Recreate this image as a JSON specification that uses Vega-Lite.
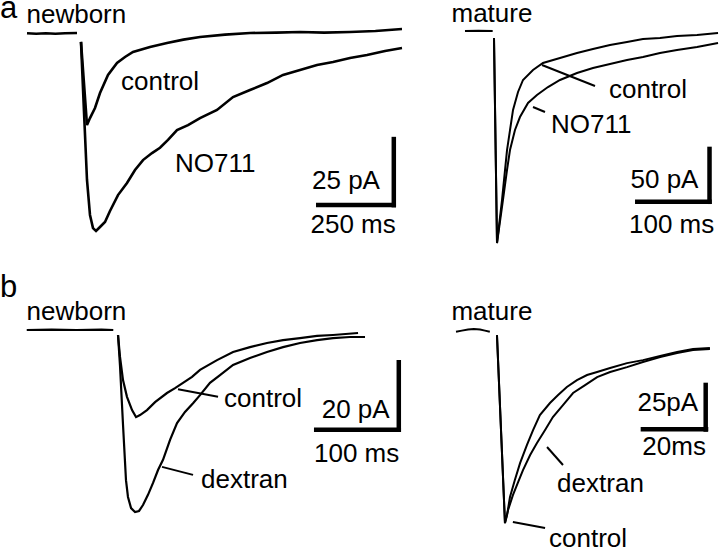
{
  "$schema": "https://vega.github.io/schema/vega-lite/v6.json",
  "padding": 0,
  "spacing": 0,
  "background": "white",
  "config": {
    "view": {"stroke": null},
    "concat": {"spacing": 0},
    "text": {"font": "Liberation Sans", "color": "black"}
  },
  "datasets": {
    "traces": [
      {"p":"A1","s":"base","t":-168.75,"i":0.1},{"p":"A1","s":"base","t":-140,"i":-0.1},{"p":"A1","s":"base","t":-110,"i":0.1},{"p":"A1","s":"base","t":-80,"i":-0.1},{"p":"A1","s":"base","t":-50,"i":0.1},{"p":"A1","s":"base","t":-12.5,"i":0.2},
      {"p":"A1","s":"control","t":0,"i":-3.0},{"p":"A1","s":"control","t":18.75,"i":-32.7},{"p":"A1","s":"control","t":28.1,"i":-30.2},{"p":"A1","s":"control","t":43.75,"i":-26.6},{"p":"A1","s":"control","t":59.4,"i":-21.25},{"p":"A1","s":"control","t":84.4,"i":-14.8},{"p":"A1","s":"control","t":112.5,"i":-10.5},{"p":"A1","s":"control","t":137.5,"i":-8.4},{"p":"A1","s":"control","t":162.5,"i":-6.6},{"p":"A1","s":"control","t":215.6,"i":-4.8},{"p":"A1","s":"control","t":268.75,"i":-3.4},{"p":"A1","s":"control","t":320,"i":-2.2},{"p":"A1","s":"control","t":371.9,"i":-1.25},{"p":"A1","s":"control","t":450,"i":-0.4},{"p":"A1","s":"control","t":528.1,"i":0.18},{"p":"A1","s":"control","t":610,"i":0.3},{"p":"A1","s":"control","t":684.4,"i":0.54},{"p":"A1","s":"control","t":760,"i":0.3},{"p":"A1","s":"control","t":840.6,"i":0.54},{"p":"A1","s":"control","t":920,"i":0.9},{"p":"A1","s":"control","t":1003.1,"i":1.6},
      {"p":"A1","s":"NO711","t":0,"i":-3.0},{"p":"A1","s":"NO711","t":9.4,"i":-28},{"p":"A1","s":"NO711","t":18.75,"i":-52.3},{"p":"A1","s":"NO711","t":28.1,"i":-64.8},{"p":"A1","s":"NO711","t":37.5,"i":-69.5},{"p":"A1","s":"NO711","t":46.9,"i":-70.5},{"p":"A1","s":"NO711","t":59.4,"i":-69.1},{"p":"A1","s":"NO711","t":75,"i":-67.3},{"p":"A1","s":"NO711","t":90.6,"i":-63.4},{"p":"A1","s":"NO711","t":115.6,"i":-57.7},{"p":"A1","s":"NO711","t":143.75,"i":-53.4},{"p":"A1","s":"NO711","t":168.75,"i":-48.75},{"p":"A1","s":"NO711","t":193.75,"i":-45.2},{"p":"A1","s":"NO711","t":221.9,"i":-42.7},{"p":"A1","s":"NO711","t":246.9,"i":-40.8},{"p":"A1","s":"NO711","t":271.9,"i":-38.0},{"p":"A1","s":"NO711","t":300,"i":-34.5},{"p":"A1","s":"NO711","t":334.4,"i":-32.7},{"p":"A1","s":"NO711","t":371.9,"i":-30.2},{"p":"A1","s":"NO711","t":425,"i":-27.3},{"p":"A1","s":"NO711","t":475,"i":-22.7},{"p":"A1","s":"NO711","t":528.1,"i":-20.2},{"p":"A1","s":"NO711","t":581.25,"i":-17.7},{"p":"A1","s":"NO711","t":631.25,"i":-14.8},{"p":"A1","s":"NO711","t":684.4,"i":-13.0},{"p":"A1","s":"NO711","t":737.5,"i":-11.25},{"p":"A1","s":"NO711","t":787.5,"i":-10.2},{"p":"A1","s":"NO711","t":840.6,"i":-8.75},{"p":"A1","s":"NO711","t":893.75,"i":-7.7},{"p":"A1","s":"NO711","t":950,"i":-6.25},{"p":"A1","s":"NO711","t":1003.1,"i":-5.2},
      {"p":"A2","s":"base","t":-37.2,"i":0},{"p":"A2","s":"base","t":-20,"i":0.2},{"p":"A2","s":"base","t":-1.7,"i":0},
      {"p":"A2","s":"control","t":0,"i":-5.8},{"p":"A2","s":"control","t":3.85,"i":-176.7},{"p":"A2","s":"control","t":10.3,"i":-140.8},{"p":"A2","s":"control","t":16.7,"i":-99.2},{"p":"A2","s":"control","t":24.4,"i":-65.8},{"p":"A2","s":"control","t":30.8,"i":-50.8},{"p":"A2","s":"control","t":37.2,"i":-40.8},{"p":"A2","s":"control","t":50,"i":-32.5},{"p":"A2","s":"control","t":62.8,"i":-26.7},{"p":"A2","s":"control","t":84.6,"i":-22.5},{"p":"A2","s":"control","t":106.4,"i":-18.3},{"p":"A2","s":"control","t":126.9,"i":-15},{"p":"A2","s":"control","t":148.7,"i":-11.7},{"p":"A2","s":"control","t":170.5,"i":-9.2},{"p":"A2","s":"control","t":191,"i":-6.7},{"p":"A2","s":"control","t":212.8,"i":-5.8},{"p":"A2","s":"control","t":234.6,"i":-4.2},{"p":"A2","s":"control","t":260.3,"i":-3.3},{"p":"A2","s":"control","t":287.2,"i":-1.7},
      {"p":"A2","s":"NO711","t":0,"i":-5.8},{"p":"A2","s":"NO711","t":3.85,"i":-176.7},{"p":"A2","s":"NO711","t":11.5,"i":-140.8},{"p":"A2","s":"NO711","t":16.7,"i":-115.8},{"p":"A2","s":"NO711","t":20.5,"i":-99.2},{"p":"A2","s":"NO711","t":26.9,"i":-82.5},{"p":"A2","s":"NO711","t":33.3,"i":-71.7},{"p":"A2","s":"NO711","t":43.6,"i":-60},{"p":"A2","s":"NO711","t":55.1,"i":-53.3},{"p":"A2","s":"NO711","t":69.2,"i":-46.7},{"p":"A2","s":"NO711","t":84.6,"i":-40.8},{"p":"A2","s":"NO711","t":106.4,"i":-35},{"p":"A2","s":"NO711","t":126.9,"i":-30.8},{"p":"A2","s":"NO711","t":148.7,"i":-27.5},{"p":"A2","s":"NO711","t":170.5,"i":-24.2},{"p":"A2","s":"NO711","t":191,"i":-21.7},{"p":"A2","s":"NO711","t":212.8,"i":-18.3},{"p":"A2","s":"NO711","t":234.6,"i":-15.8},{"p":"A2","s":"NO711","t":260.3,"i":-13.3},{"p":"A2","s":"NO711","t":287.2,"i":-10},
      {"p":"B1","s":"base","t":-110,"i":0},{"p":"B1","s":"base","t":-80,"i":0.1},{"p":"B1","s":"base","t":-50,"i":0},{"p":"B1","s":"base","t":-20,"i":0.1},{"p":"B1","s":"base","t":-5.7,"i":0},
      {"p":"B1","s":"control","t":0,"i":-1.43},{"p":"B1","s":"control","t":2.4,"i":-7.7},{"p":"B1","s":"control","t":6,"i":-14.3},{"p":"B1","s":"control","t":10.8,"i":-19.1},{"p":"B1","s":"control","t":16.9,"i":-22.9},{"p":"B1","s":"control","t":21.7,"i":-24.9},{"p":"B1","s":"control","t":26.5,"i":-24.3},{"p":"B1","s":"control","t":34.9,"i":-22.9},{"p":"B1","s":"control","t":44.6,"i":-20.6},{"p":"B1","s":"control","t":59,"i":-18},{"p":"B1","s":"control","t":68.7,"i":-16.6},{"p":"B1","s":"control","t":78.3,"i":-15.1},{"p":"B1","s":"control","t":89.2,"i":-13.4},{"p":"B1","s":"control","t":98.8,"i":-11.4},{"p":"B1","s":"control","t":119.3,"i":-8.6},{"p":"B1","s":"control","t":138.6,"i":-6.3},{"p":"B1","s":"control","t":159,"i":-4.9},{"p":"B1","s":"control","t":179.5,"i":-3.7},{"p":"B1","s":"control","t":198.8,"i":-2.9},{"p":"B1","s":"control","t":219.3,"i":-2.3},{"p":"B1","s":"control","t":239.8,"i":-1.7},{"p":"B1","s":"control","t":259,"i":-1.43},{"p":"B1","s":"control","t":289.2,"i":-0.86},
      {"p":"B1","s":"dextran","t":0,"i":-1.43},{"p":"B1","s":"dextran","t":2.4,"i":-10.3},{"p":"B1","s":"dextran","t":6,"i":-27},{"p":"B1","s":"dextran","t":9.6,"i":-42.9},{"p":"B1","s":"dextran","t":12,"i":-47.7},{"p":"B1","s":"dextran","t":15.7,"i":-50.9},{"p":"B1","s":"dextran","t":20.5,"i":-52},{"p":"B1","s":"dextran","t":25.3,"i":-51.7},{"p":"B1","s":"dextran","t":30.1,"i":-50},{"p":"B1","s":"dextran","t":36.1,"i":-47.1},{"p":"B1","s":"dextran","t":42.2,"i":-43.7},{"p":"B1","s":"dextran","t":48.2,"i":-40},{"p":"B1","s":"dextran","t":54.2,"i":-37.1},{"p":"B1","s":"dextran","t":62.7,"i":-31.4},{"p":"B1","s":"dextran","t":71.1,"i":-26.6},{"p":"B1","s":"dextran","t":80.7,"i":-23.4},{"p":"B1","s":"dextran","t":90.4,"i":-20.9},{"p":"B1","s":"dextran","t":98.8,"i":-18.6},{"p":"B1","s":"dextran","t":110.8,"i":-15.1},{"p":"B1","s":"dextran","t":122.9,"i":-12.9},{"p":"B1","s":"dextran","t":138.6,"i":-10},{"p":"B1","s":"dextran","t":159,"i":-8},{"p":"B1","s":"dextran","t":179.5,"i":-6.3},{"p":"B1","s":"dextran","t":198.8,"i":-4.9},{"p":"B1","s":"dextran","t":219.3,"i":-3.7},{"p":"B1","s":"dextran","t":239.8,"i":-2.9},{"p":"B1","s":"dextran","t":259,"i":-2.3},{"p":"B1","s":"dextran","t":279.5,"i":-2},{"p":"B1","s":"dextran","t":297.6,"i":-2},
      {"p":"B2","s":"base","t":-12.6,"i":-0.9},{"p":"B2","s":"base","t":-10.8,"i":-0.3},{"p":"B2","s":"base","t":-8.9,"i":0.3},{"p":"B2","s":"base","t":-7.1,"i":0.6},{"p":"B2","s":"base","t":-5.2,"i":0.3},{"p":"B2","s":"base","t":-3.7,"i":-0.3},{"p":"B2","s":"base","t":-2.2,"i":-0.9},
      {"p":"B2","s":"control","t":0,"i":-2.7},{"p":"B2","s":"control","t":2.46,"i":-102.7},{"p":"B2","s":"control","t":3.1,"i":-98.4},{"p":"B2","s":"control","t":4,"i":-88.8},{"p":"B2","s":"control","t":5.5,"i":-79.8},{"p":"B2","s":"control","t":7.1,"i":-70.8},{"p":"B2","s":"control","t":9.2,"i":-61.2},{"p":"B2","s":"control","t":11.1,"i":-53.2},{"p":"B2","s":"control","t":13.2,"i":-45.2},{"p":"B2","s":"control","t":16.3,"i":-38.8},{"p":"B2","s":"control","t":18.8,"i":-34.6},{"p":"B2","s":"control","t":21.5,"i":-30.3},{"p":"B2","s":"control","t":24.6,"i":-26.6},{"p":"B2","s":"control","t":27.7,"i":-23.9},{"p":"B2","s":"control","t":30.8,"i":-22.3},{"p":"B2","s":"control","t":34.8,"i":-20.2},{"p":"B2","s":"control","t":40,"i":-17.6},{"p":"B2","s":"control","t":44.9,"i":-16},{"p":"B2","s":"control","t":50.2,"i":-13.8},{"p":"B2","s":"control","t":55.4,"i":-11.7},{"p":"B2","s":"control","t":60.3,"i":-10.1},{"p":"B2","s":"control","t":65.5,"i":-9.6},
      {"p":"B2","s":"dextran","t":0,"i":-2.7},{"p":"B2","s":"dextran","t":2.46,"i":-102.7},{"p":"B2","s":"dextran","t":3.4,"i":-95.8},{"p":"B2","s":"dextran","t":4.9,"i":-87.8},{"p":"B2","s":"dextran","t":6.5,"i":-80.9},{"p":"B2","s":"dextran","t":8,"i":-74.5},{"p":"B2","s":"dextran","t":10.2,"i":-66.5},{"p":"B2","s":"dextran","t":12.3,"i":-60.1},{"p":"B2","s":"dextran","t":14.8,"i":-53.2},{"p":"B2","s":"dextran","t":17.2,"i":-46.3},{"p":"B2","s":"dextran","t":20.3,"i":-39.9},{"p":"B2","s":"dextran","t":23.4,"i":-33.5},{"p":"B2","s":"dextran","t":27.1,"i":-29.3},{"p":"B2","s":"dextran","t":30.8,"i":-25},{"p":"B2","s":"dextran","t":34.8,"i":-22.3},{"p":"B2","s":"dextran","t":40,"i":-19.7},{"p":"B2","s":"dextran","t":44.9,"i":-17},{"p":"B2","s":"dextran","t":50.2,"i":-14.4},{"p":"B2","s":"dextran","t":55.4,"i":-12.2},{"p":"B2","s":"dextran","t":60.3,"i":-10.6},{"p":"B2","s":"dextran","t":65.5,"i":-10.1}
    ],
    "bars": [
      {"p":"A1","t":977.5,"t2":977.5,"i":-36.9,"i2":-62.1},
      {"p":"A1","t":734.4,"t2":984.4,"i":-61.25,"i2":-61.25},
      {"p":"A2","t":276.3,"t2":276.3,"i":-96.4,"i2":-144.2},
      {"p":"A2","t":180.8,"t2":279.1,"i":-142.2,"i2":-142.2},
      {"p":"B1","t":338.3,"t2":338.3,"i":-8.57,"i2":-29.1},
      {"p":"B1","t":236.1,"t2":341,"i":-28.5,"i2":-28.5},
      {"p":"B2","t":64.2,"t2":64.2,"i":-28,"i2":-54.1},
      {"p":"B2","t":44.2,"t2":65,"i":-52.8,"i2":-52.8}
    ],
    "leaders": [
      {"p":"A2","t":61.5,"t2":129.5,"i":-28.3,"i2":-45.8},
      {"p":"A2","t":50,"t2":65.4,"i":-63.3,"i2":-67.5},
      {"p":"B1","t":72.3,"t2":120.5,"i":-16.9,"i2":-19.1},
      {"p":"B1","t":53,"t2":90.4,"i":-39.1,"i2":-41.4},
      {"p":"B2","t":15.4,"t2":20.3,"i":-62.2,"i2":-71.8},
      {"p":"B2","t":4.9,"t2":14.8,"i":-102.1,"i2":-105.3}
    ],
    "labels": [
      {"p":"A1","label":"newborn","t":-170.3,"i":3.75},
      {"p":"A1","label":"control","t":125,"i":-20.2},
      {"p":"A1","label":"NO711","t":293.75,"i":-49.5},
      {"p":"A1","label":"25 pA","t":721.9,"i":-55.6},
      {"p":"A1","label":"250 ms","t":717.2,"i":-71.4},
      {"p":"A2","label":"mature","t":-54.5,"i":7.5},
      {"p":"A2","label":"control","t":147.4,"i":-55.8},
      {"p":"A2","label":"NO711","t":73.1,"i":-85},
      {"p":"A2","label":"50 pA","t":175,"i":-131.1},
      {"p":"A2","label":"100 ms","t":173.1,"i":-168.1},
      {"p":"B1","label":"newborn","t":-110.2,"i":2.86},
      {"p":"B1","label":"control","t":127.7,"i":-22},
      {"p":"B1","label":"dextran","t":100,"i":-45.1},
      {"p":"B1","label":"20 pA","t":245.4,"i":-25.2},
      {"p":"B1","label":"100 ms","t":236.1,"i":-37.6},
      {"p":"B2","label":"mature","t":-14,"i":5.3},
      {"p":"B2","label":"dextran","t":18.5,"i":-86.2},
      {"p":"B2","label":"control","t":16,"i":-115.2},
      {"p":"B2","label":"25pA","t":43.2,"i":-42.9},
      {"p":"B2","label":"20ms","t":44.7,"i":-66.5}
    ],
    "letters": [
      {"p":"A1","label":"a","t":-253,"i":5.43},
      {"p":"B1","label":"b","t":-142.2,"i":9.4}
    ]
  },
  "vconcat": [
    {
      "spacing": 0,
      "bounds": "flush",
      "hconcat": [
        {
          "width": 430, "height": 262,
          "encoding": {
            "x": {"field": "t", "type": "quantitative", "scale": {"domain": [-253.1, 1090.6], "nice": false, "zero": false}, "axis": null},
            "y": {"field": "i", "type": "quantitative", "scale": {"domain": [-81.6, 11.96], "nice": false, "zero": false}, "axis": null}
          },
          "layer": [
            {"data": {"name": "traces"}, "transform": [{"filter": "datum.p === 'A1'"}], "mark": {"type": "line", "color": "black", "strokeWidth": 2.6, "clip": true}, "encoding": {"detail": {"field": "s"}}},
            {"data": {"name": "bars"}, "transform": [{"filter": "datum.p === 'A1'"}], "mark": {"type": "rule", "color": "black", "strokeWidth": 4.5, "clip": true}, "encoding": {"x2": {"field": "t2"}, "y2": {"field": "i2"}}},
            {"data": {"name": "labels"}, "transform": [{"filter": "datum.p === 'A1'"}], "mark": {"type": "text", "align": "left", "baseline": "alphabetic", "fontSize": 26, "clip": true}, "encoding": {"text": {"field": "label"}}},
            {"data": {"name": "letters"}, "transform": [{"filter": "datum.p === 'A1'"}], "mark": {"type": "text", "align": "left", "baseline": "alphabetic", "fontSize": 31, "clip": true}, "encoding": {"text": {"field": "label"}}}
          ]
        },
        {
          "width": 290, "height": 262,
          "encoding": {
            "x": {"field": "t", "type": "quantitative", "scale": {"domain": [-82.05, 289.74], "nice": false, "zero": false}, "axis": null},
            "y": {"field": "i", "type": "quantitative", "scale": {"domain": [-192.5, 25.83], "nice": false, "zero": false}, "axis": null}
          },
          "layer": [
            {"data": {"name": "traces"}, "transform": [{"filter": "datum.p === 'A2'"}], "mark": {"type": "line", "color": "black", "strokeWidth": 2, "clip": true}, "encoding": {"detail": {"field": "s"}}},
            {"data": {"name": "bars"}, "transform": [{"filter": "datum.p === 'A2'"}], "mark": {"type": "rule", "color": "black", "strokeWidth": 4.5, "clip": true}, "encoding": {"x2": {"field": "t2"}, "y2": {"field": "i2"}}},
            {"data": {"name": "leaders"}, "transform": [{"filter": "datum.p === 'A2'"}], "mark": {"type": "rule", "color": "black", "strokeWidth": 2, "clip": true}, "encoding": {"x2": {"field": "t2"}, "y2": {"field": "i2"}}},
            {"data": {"name": "labels"}, "transform": [{"filter": "datum.p === 'A2'"}], "mark": {"type": "text", "align": "left", "baseline": "alphabetic", "fontSize": 26, "clip": true}, "encoding": {"text": {"field": "label"}}}
          ]
        }
      ]
    },
    {
      "spacing": 0,
      "bounds": "flush",
      "hconcat": [
        {
          "width": 430, "height": 285,
          "encoding": {
            "x": {"field": "t", "type": "quantitative", "scale": {"domain": [-142.2, 375.9], "nice": false, "zero": false}, "axis": null},
            "y": {"field": "i", "type": "quantitative", "scale": {"domain": [-62.0, 19.43], "nice": false, "zero": false}, "axis": null}
          },
          "layer": [
            {"data": {"name": "traces"}, "transform": [{"filter": "datum.p === 'B1'"}], "mark": {"type": "line", "color": "black", "strokeWidth": 2.2, "clip": true}, "encoding": {"detail": {"field": "s"}}},
            {"data": {"name": "bars"}, "transform": [{"filter": "datum.p === 'B1'"}], "mark": {"type": "rule", "color": "black", "strokeWidth": 4.5, "clip": true}, "encoding": {"x2": {"field": "t2"}, "y2": {"field": "i2"}}},
            {"data": {"name": "leaders"}, "transform": [{"filter": "datum.p === 'B1'"}], "mark": {"type": "rule", "color": "black", "strokeWidth": 2, "clip": true}, "encoding": {"x2": {"field": "t2"}, "y2": {"field": "i2"}}},
            {"data": {"name": "labels"}, "transform": [{"filter": "datum.p === 'B1'"}], "mark": {"type": "text", "align": "left", "baseline": "alphabetic", "fontSize": 26, "clip": true}, "encoding": {"text": {"field": "label"}}},
            {"data": {"name": "letters"}, "transform": [{"filter": "datum.p === 'B1'"}], "mark": {"type": "text", "align": "left", "baseline": "alphabetic", "fontSize": 31, "clip": true}, "encoding": {"text": {"field": "label"}}}
          ]
        },
        {
          "width": 290, "height": 285,
          "encoding": {
            "x": {"field": "t", "type": "quantitative", "scale": {"domain": [-20.6, 68.6], "nice": false, "zero": false}, "axis": null},
            "y": {"field": "i", "type": "quantitative", "scale": {"domain": [-115.4, 36.2], "nice": false, "zero": false}, "axis": null}
          },
          "layer": [
            {"data": {"name": "traces"}, "transform": [{"filter": "datum.p === 'B2'"}], "mark": {"type": "line", "color": "black", "strokeWidth": 2, "clip": true}, "encoding": {"detail": {"field": "s"}}},
            {"data": {"name": "bars"}, "transform": [{"filter": "datum.p === 'B2'"}], "mark": {"type": "rule", "color": "black", "strokeWidth": 4.5, "clip": true}, "encoding": {"x2": {"field": "t2"}, "y2": {"field": "i2"}}},
            {"data": {"name": "leaders"}, "transform": [{"filter": "datum.p === 'B2'"}], "mark": {"type": "rule", "color": "black", "strokeWidth": 2, "clip": true}, "encoding": {"x2": {"field": "t2"}, "y2": {"field": "i2"}}},
            {"data": {"name": "labels"}, "transform": [{"filter": "datum.p === 'B2'"}], "mark": {"type": "text", "align": "left", "baseline": "alphabetic", "fontSize": 26, "clip": true}, "encoding": {"text": {"field": "label"}}}
          ]
        }
      ]
    }
  ]
}
